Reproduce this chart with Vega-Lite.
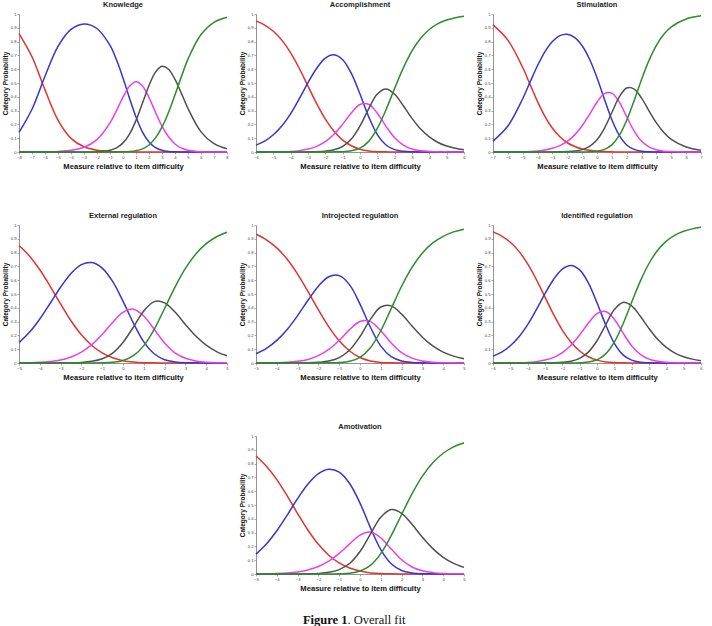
{
  "$schema": "https://vega.github.io/schema/vega-lite/v6.json",
  "background": "white",
  "padding": {"left": 2, "top": 0, "right": 0, "bottom": 0},
  "config": {
    "view": {"stroke": null},
    "title": {"font": "Liberation Sans", "fontSize": 7.5, "fontWeight": "bold", "color": "#222222", "offset": 4},
    "axis": {
      "grid": false,
      "labelFont": "Liberation Sans", "labelFontSize": 4.2, "labelColor": "#444444",
      "labelPadding": 1, "labelFlush": false, "labelOverlap": false,
      "titleFont": "Liberation Sans", "titleFontSize": 6.5, "titleFontWeight": "bold", "titleColor": "#111111",
      "domainColor": "#777777", "domainWidth": 0.8, "tickColor": "#777777", "tickSize": 2, "tickWidth": 0.6
    },
    "axisY": {"titlePadding": 2},
    "axisX": {"titlePadding": 3, "titleFontSize": 7.6},
    "line": {"interpolate": "catmull-rom", "strokeWidth": 1.5}
  },
  "datasets": {
    "knowledge": [
      {"x":-8,"c":0,"y":0.858},{"x":-8,"c":1,"y":0.142},{"x":-8,"c":2,"y":0},{"x":-8,"c":3,"y":0},{"x":-8,"c":4,"y":0},
      {"x":-7,"c":0,"y":0.690},{"x":-7,"c":1,"y":0.310},{"x":-7,"c":2,"y":0},{"x":-7,"c":3,"y":0},{"x":-7,"c":4,"y":0},
      {"x":-6,"c":0,"y":0.450},{"x":-6,"c":1,"y":0.549},{"x":-6,"c":2,"y":0.001},{"x":-6,"c":3,"y":0},{"x":-6,"c":4,"y":0},
      {"x":-5,"c":0,"y":0.231},{"x":-5,"c":1,"y":0.766},{"x":-5,"c":2,"y":0.004},{"x":-5,"c":3,"y":0},{"x":-5,"c":4,"y":0},
      {"x":-4,"c":0,"y":0.099},{"x":-4,"c":1,"y":0.889},{"x":-4,"c":2,"y":0.012},{"x":-4,"c":3,"y":0},{"x":-4,"c":4,"y":0},
      {"x":-3,"c":0,"y":0.038},{"x":-3,"c":1,"y":0.928},{"x":-3,"c":2,"y":0.034},{"x":-3,"c":3,"y":0},{"x":-3,"c":4,"y":0},
      {"x":-2,"c":0,"y":0.013},{"x":-2,"c":1,"y":0.895},{"x":-2,"c":2,"y":0.090},{"x":-2,"c":3,"y":0.002},{"x":-2,"c":4,"y":0},
      {"x":-1,"c":0,"y":0.004},{"x":-1,"c":1,"y":0.772},{"x":-1,"c":2,"y":0.211},{"x":-1,"c":3,"y":0.013},{"x":-1,"c":4,"y":0},
      {"x":-0.5,"c":0,"y":0.002},{"x":-0.5,"c":1,"y":0.668},{"x":-0.5,"c":2,"y":0.300},{"x":-0.5,"c":3,"y":0.030},{"x":-0.5,"c":4,"y":0},
      {"x":0,"c":0,"y":0.001},{"x":0,"c":1,"y":0.536},{"x":0,"c":2,"y":0.397},{"x":0,"c":3,"y":0.066},{"x":0,"c":4,"y":0.001},
      {"x":0.5,"c":0,"y":0.001},{"x":0.5,"c":1,"y":0.390},{"x":0.5,"c":2,"y":0.476},{"x":0.5,"c":3,"y":0.130},{"x":0.5,"c":4,"y":0.003},
      {"x":1,"c":0,"y":0},{"x":1,"c":1,"y":0.253},{"x":1,"c":2,"y":0.509},{"x":1,"c":3,"y":0.229},{"x":1,"c":4,"y":0.009},
      {"x":1.5,"c":0,"y":0},{"x":1.5,"c":1,"y":0.144},{"x":1.5,"c":2,"y":0.479},{"x":1.5,"c":3,"y":0.355},{"x":1.5,"c":4,"y":0.023},
      {"x":2,"c":0,"y":0},{"x":2,"c":1,"y":0.072},{"x":2,"c":2,"y":0.395},{"x":2,"c":3,"y":0.482},{"x":2,"c":4,"y":0.051},
      {"x":2.5,"c":0,"y":0},{"x":2.5,"c":1,"y":0.032},{"x":2.5,"c":2,"y":0.288},{"x":2.5,"c":3,"y":0.579},{"x":2.5,"c":4,"y":0.102},
      {"x":3,"c":0,"y":0},{"x":3,"c":1,"y":0.013},{"x":3,"c":2,"y":0.187},{"x":3,"c":3,"y":0.621},{"x":3,"c":4,"y":0.180},
      {"x":3.5,"c":0,"y":0},{"x":3.5,"c":1,"y":0.004},{"x":3.5,"c":2,"y":0.110},{"x":3.5,"c":3,"y":0.600},{"x":3.5,"c":4,"y":0.286},
      {"x":4,"c":0,"y":0},{"x":4,"c":1,"y":0.001},{"x":4,"c":2,"y":0.058},{"x":4,"c":3,"y":0.526},{"x":4,"c":4,"y":0.414},
      {"x":4.5,"c":0,"y":0},{"x":4.5,"c":1,"y":0},{"x":4.5,"c":2,"y":0.028},{"x":4.5,"c":3,"y":0.423},{"x":4.5,"c":4,"y":0.548},
      {"x":5,"c":0,"y":0},{"x":5,"c":1,"y":0},{"x":5,"c":2,"y":0.013},{"x":5,"c":3,"y":0.315},{"x":5,"c":4,"y":0.673},
      {"x":6,"c":0,"y":0},{"x":6,"c":1,"y":0},{"x":6,"c":2,"y":0.002},{"x":6,"c":3,"y":0.146},{"x":6,"c":4,"y":0.851},
      {"x":7,"c":0,"y":0},{"x":7,"c":1,"y":0},{"x":7,"c":2,"y":0},{"x":7,"c":3,"y":0.060},{"x":7,"c":4,"y":0.940},
      {"x":8,"c":0,"y":0},{"x":8,"c":1,"y":0},{"x":8,"c":2,"y":0},{"x":8,"c":3,"y":0.023},{"x":8,"c":4,"y":0.977}
    ],
    "accomplishment": [
      {"x":-6,"c":0,"y":0.950},{"x":-6,"c":1,"y":0.050},{"x":-6,"c":2,"y":0},{"x":-6,"c":3,"y":0},{"x":-6,"c":4,"y":0},
      {"x":-5.5,"c":0,"y":0.920},{"x":-5.5,"c":1,"y":0.079},{"x":-5.5,"c":2,"y":0},{"x":-5.5,"c":3,"y":0},{"x":-5.5,"c":4,"y":0},
      {"x":-5,"c":0,"y":0.875},{"x":-5,"c":1,"y":0.125},{"x":-5,"c":2,"y":0.001},{"x":-5,"c":3,"y":0},{"x":-5,"c":4,"y":0},
      {"x":-4.5,"c":0,"y":0.809},{"x":-4.5,"c":1,"y":0.190},{"x":-4.5,"c":2,"y":0.002},{"x":-4.5,"c":3,"y":0},{"x":-4.5,"c":4,"y":0},
      {"x":-4,"c":0,"y":0.718},{"x":-4,"c":1,"y":0.278},{"x":-4,"c":2,"y":0.004},{"x":-4,"c":3,"y":0},{"x":-4,"c":4,"y":0},
      {"x":-3.5,"c":0,"y":0.605},{"x":-3.5,"c":1,"y":0.386},{"x":-3.5,"c":2,"y":0.010},{"x":-3.5,"c":3,"y":0},{"x":-3.5,"c":4,"y":0},
      {"x":-3,"c":0,"y":0.477},{"x":-3,"c":1,"y":0.502},{"x":-3,"c":2,"y":0.021},{"x":-3,"c":3,"y":0.001},{"x":-3,"c":4,"y":0},
      {"x":-2.5,"c":0,"y":0.350},{"x":-2.5,"c":1,"y":0.607},{"x":-2.5,"c":2,"y":0.041},{"x":-2.5,"c":3,"y":0.002},{"x":-2.5,"c":4,"y":0},
      {"x":-2,"c":0,"y":0.238},{"x":-2,"c":1,"y":0.681},{"x":-2,"c":2,"y":0.075},{"x":-2,"c":3,"y":0.006},{"x":-2,"c":4,"y":0},
      {"x":-1.5,"c":0,"y":0.150},{"x":-1.5,"c":1,"y":0.705},{"x":-1.5,"c":2,"y":0.129},{"x":-1.5,"c":3,"y":0.016},{"x":-1.5,"c":4,"y":0.001},
      {"x":-1,"c":0,"y":0.086},{"x":-1,"c":1,"y":0.669},{"x":-1,"c":2,"y":0.202},{"x":-1,"c":3,"y":0.041},{"x":-1,"c":4,"y":0.002},
      {"x":-0.5,"c":0,"y":0.045},{"x":-0.5,"c":1,"y":0.570},{"x":-0.5,"c":2,"y":0.283},{"x":-0.5,"c":3,"y":0.094},{"x":-0.5,"c":4,"y":0.009},
      {"x":0,"c":0,"y":0.020},{"x":0,"c":1,"y":0.420},{"x":0,"c":2,"y":0.344},{"x":0,"c":3,"y":0.189},{"x":0,"c":4,"y":0.028},
      {"x":0.5,"c":0,"y":0.007},{"x":0.5,"c":1,"y":0.256},{"x":0.5,"c":2,"y":0.346},{"x":0.5,"c":3,"y":0.313},{"x":0.5,"c":4,"y":0.077},
      {"x":1,"c":0,"y":0.002},{"x":1,"c":1,"y":0.126},{"x":1,"c":2,"y":0.281},{"x":1,"c":3,"y":0.420},{"x":1,"c":4,"y":0.171},
      {"x":1.5,"c":0,"y":0.001},{"x":1.5,"c":1,"y":0.051},{"x":1.5,"c":2,"y":0.186},{"x":1.5,"c":3,"y":0.457},{"x":1.5,"c":4,"y":0.306},
      {"x":2,"c":0,"y":0},{"x":2,"c":1,"y":0.017},{"x":2,"c":2,"y":0.103},{"x":2,"c":3,"y":0.418},{"x":2,"c":4,"y":0.462},
      {"x":2.5,"c":0,"y":0},{"x":2.5,"c":1,"y":0.005},{"x":2.5,"c":2,"y":0.050},{"x":2.5,"c":3,"y":0.335},{"x":2.5,"c":4,"y":0.610},
      {"x":3,"c":0,"y":0},{"x":3,"c":1,"y":0.001},{"x":3,"c":2,"y":0.022},{"x":3,"c":3,"y":0.244},{"x":3,"c":4,"y":0.733},
      {"x":3.5,"c":0,"y":0},{"x":3.5,"c":1,"y":0},{"x":3.5,"c":2,"y":0.009},{"x":3.5,"c":3,"y":0.166},{"x":3.5,"c":4,"y":0.824},
      {"x":4,"c":0,"y":0},{"x":4,"c":1,"y":0},{"x":4,"c":2,"y":0.004},{"x":4,"c":3,"y":0.109},{"x":4,"c":4,"y":0.888},
      {"x":4.5,"c":0,"y":0},{"x":4.5,"c":1,"y":0},{"x":4.5,"c":2,"y":0.001},{"x":4.5,"c":3,"y":0.069},{"x":4.5,"c":4,"y":0.930},
      {"x":5,"c":0,"y":0},{"x":5,"c":1,"y":0},{"x":5,"c":2,"y":0.001},{"x":5,"c":3,"y":0.043},{"x":5,"c":4,"y":0.956},
      {"x":5.5,"c":0,"y":0},{"x":5.5,"c":1,"y":0},{"x":5.5,"c":2,"y":0},{"x":5.5,"c":3,"y":0.027},{"x":5.5,"c":4,"y":0.973},
      {"x":6,"c":0,"y":0},{"x":6,"c":1,"y":0},{"x":6,"c":2,"y":0},{"x":6,"c":3,"y":0.016},{"x":6,"c":4,"y":0.984}
    ],
    "stimulation": [
      {"x":-7,"c":0,"y":0.921},{"x":-7,"c":1,"y":0.079},{"x":-7,"c":2,"y":0},{"x":-7,"c":3,"y":0},{"x":-7,"c":4,"y":0},
      {"x":-6,"c":0,"y":0.811},{"x":-6,"c":1,"y":0.188},{"x":-6,"c":2,"y":0},{"x":-6,"c":3,"y":0},{"x":-6,"c":4,"y":0},
      {"x":-5,"c":0,"y":0.612},{"x":-5,"c":1,"y":0.386},{"x":-5,"c":2,"y":0.002},{"x":-5,"c":3,"y":0},{"x":-5,"c":4,"y":0},
      {"x":-4.5,"c":0,"y":0.488},{"x":-4.5,"c":1,"y":0.508},{"x":-4.5,"c":2,"y":0.004},{"x":-4.5,"c":3,"y":0},{"x":-4.5,"c":4,"y":0},
      {"x":-4,"c":0,"y":0.365},{"x":-4,"c":1,"y":0.627},{"x":-4,"c":2,"y":0.008},{"x":-4,"c":3,"y":0},{"x":-4,"c":4,"y":0},
      {"x":-3.5,"c":0,"y":0.257},{"x":-3.5,"c":1,"y":0.728},{"x":-3.5,"c":2,"y":0.015},{"x":-3.5,"c":3,"y":0},{"x":-3.5,"c":4,"y":0},
      {"x":-3,"c":0,"y":0.172},{"x":-3,"c":1,"y":0.801},{"x":-3,"c":2,"y":0.027},{"x":-3,"c":3,"y":0},{"x":-3,"c":4,"y":0},
      {"x":-2.5,"c":0,"y":0.110},{"x":-2.5,"c":1,"y":0.843},{"x":-2.5,"c":2,"y":0.046},{"x":-2.5,"c":3,"y":0.001},{"x":-2.5,"c":4,"y":0},
      {"x":-2,"c":0,"y":0.067},{"x":-2,"c":1,"y":0.853},{"x":-2,"c":2,"y":0.077},{"x":-2,"c":3,"y":0.003},{"x":-2,"c":4,"y":0},
      {"x":-1.5,"c":0,"y":0.040},{"x":-1.5,"c":1,"y":0.829},{"x":-1.5,"c":2,"y":0.124},{"x":-1.5,"c":3,"y":0.007},{"x":-1.5,"c":4,"y":0},
      {"x":-1,"c":0,"y":0.022},{"x":-1,"c":1,"y":0.770},{"x":-1,"c":2,"y":0.190},{"x":-1,"c":3,"y":0.017},{"x":-1,"c":4,"y":0},
      {"x":-0.5,"c":0,"y":0.012},{"x":-0.5,"c":1,"y":0.672},{"x":-0.5,"c":2,"y":0.273},{"x":-0.5,"c":3,"y":0.041},{"x":-0.5,"c":4,"y":0.002},
      {"x":0,"c":0,"y":0.006},{"x":0,"c":1,"y":0.538},{"x":0,"c":2,"y":0.361},{"x":0,"c":3,"y":0.089},{"x":0,"c":4,"y":0.006},
      {"x":0.5,"c":0,"y":0.003},{"x":0.5,"c":1,"y":0.383},{"x":0.5,"c":2,"y":0.423},{"x":0.5,"c":3,"y":0.172},{"x":0.5,"c":4,"y":0.019},
      {"x":1,"c":0,"y":0.001},{"x":1,"c":1,"y":0.234},{"x":1,"c":2,"y":0.427},{"x":1,"c":3,"y":0.286},{"x":1,"c":4,"y":0.052},
      {"x":1.5,"c":0,"y":0},{"x":1.5,"c":1,"y":0.120},{"x":1.5,"c":2,"y":0.361},{"x":1.5,"c":3,"y":0.399},{"x":1.5,"c":4,"y":0.120},
      {"x":2,"c":0,"y":0},{"x":2,"c":1,"y":0.051},{"x":2,"c":2,"y":0.255},{"x":2,"c":3,"y":0.464},{"x":2,"c":4,"y":0.230},
      {"x":2.5,"c":0,"y":0},{"x":2.5,"c":1,"y":0.019},{"x":2.5,"c":2,"y":0.152},{"x":2.5,"c":3,"y":0.456},{"x":2.5,"c":4,"y":0.373},
      {"x":3,"c":0,"y":0},{"x":3,"c":1,"y":0.006},{"x":3,"c":2,"y":0.079},{"x":3,"c":3,"y":0.390},{"x":3,"c":4,"y":0.526},
      {"x":3.5,"c":0,"y":0},{"x":3.5,"c":1,"y":0.002},{"x":3.5,"c":2,"y":0.037},{"x":3.5,"c":3,"y":0.298},{"x":3.5,"c":4,"y":0.664},
      {"x":4,"c":0,"y":0},{"x":4,"c":1,"y":0},{"x":4,"c":2,"y":0.016},{"x":4,"c":3,"y":0.211},{"x":4,"c":4,"y":0.773},
      {"x":4.5,"c":0,"y":0},{"x":4.5,"c":1,"y":0},{"x":4.5,"c":2,"y":0.006},{"x":4.5,"c":3,"y":0.141},{"x":4.5,"c":4,"y":0.853},
      {"x":5,"c":0,"y":0},{"x":5,"c":1,"y":0},{"x":5,"c":2,"y":0.003},{"x":5,"c":3,"y":0.091},{"x":5,"c":4,"y":0.907},
      {"x":6,"c":0,"y":0},{"x":6,"c":1,"y":0},{"x":6,"c":2,"y":0},{"x":6,"c":3,"y":0.036},{"x":6,"c":4,"y":0.964},
      {"x":7,"c":0,"y":0},{"x":7,"c":1,"y":0},{"x":7,"c":2,"y":0},{"x":7,"c":3,"y":0.013},{"x":7,"c":4,"y":0.987}
    ],
    "external": [
      {"x":-5,"c":0,"y":0.851},{"x":-5,"c":1,"y":0.148},{"x":-5,"c":2,"y":0.001},{"x":-5,"c":3,"y":0},{"x":-5,"c":4,"y":0},
      {"x":-4.5,"c":0,"y":0.776},{"x":-4.5,"c":1,"y":0.222},{"x":-4.5,"c":2,"y":0.002},{"x":-4.5,"c":3,"y":0},{"x":-4.5,"c":4,"y":0},
      {"x":-4,"c":0,"y":0.676},{"x":-4,"c":1,"y":0.319},{"x":-4,"c":2,"y":0.005},{"x":-4,"c":3,"y":0},{"x":-4,"c":4,"y":0},
      {"x":-3.5,"c":0,"y":0.556},{"x":-3.5,"c":1,"y":0.433},{"x":-3.5,"c":2,"y":0.011},{"x":-3.5,"c":3,"y":0},{"x":-3.5,"c":4,"y":0},
      {"x":-3,"c":0,"y":0.428},{"x":-3,"c":1,"y":0.549},{"x":-3,"c":2,"y":0.022},{"x":-3,"c":3,"y":0.001},{"x":-3,"c":4,"y":0},
      {"x":-2.5,"c":0,"y":0.306},{"x":-2.5,"c":1,"y":0.649},{"x":-2.5,"c":2,"y":0.044},{"x":-2.5,"c":3,"y":0.002},{"x":-2.5,"c":4,"y":0},
      {"x":-2,"c":0,"y":0.204},{"x":-2,"c":1,"y":0.713},{"x":-2,"c":2,"y":0.079},{"x":-2,"c":3,"y":0.004},{"x":-2,"c":4,"y":0},
      {"x":-1.5,"c":0,"y":0.127},{"x":-1.5,"c":1,"y":0.728},{"x":-1.5,"c":2,"y":0.133},{"x":-1.5,"c":3,"y":0.012},{"x":-1.5,"c":4,"y":0},
      {"x":-1,"c":0,"y":0.073},{"x":-1,"c":1,"y":0.688},{"x":-1,"c":2,"y":0.207},{"x":-1,"c":3,"y":0.031},{"x":-1,"c":4,"y":0.001},
      {"x":-0.5,"c":0,"y":0.038},{"x":-0.5,"c":1,"y":0.591},{"x":-0.5,"c":2,"y":0.294},{"x":-0.5,"c":3,"y":0.072},{"x":-0.5,"c":4,"y":0.005},
      {"x":0,"c":0,"y":0.017},{"x":0,"c":1,"y":0.448},{"x":0,"c":2,"y":0.367},{"x":0,"c":3,"y":0.149},{"x":0,"c":4,"y":0.018},
      {"x":0.5,"c":0,"y":0.007},{"x":0.5,"c":1,"y":0.289},{"x":0.5,"c":2,"y":0.390},{"x":0.5,"c":3,"y":0.261},{"x":0.5,"c":4,"y":0.053},
      {"x":1,"c":0,"y":0.002},{"x":1,"c":1,"y":0.153},{"x":1,"c":2,"y":0.341},{"x":1,"c":3,"y":0.377},{"x":1,"c":4,"y":0.126},
      {"x":1.5,"c":0,"y":0.001},{"x":1.5,"c":1,"y":0.067},{"x":1.5,"c":2,"y":0.244},{"x":1.5,"c":3,"y":0.445},{"x":1.5,"c":4,"y":0.244},
      {"x":2,"c":0,"y":0},{"x":2,"c":1,"y":0.024},{"x":2,"c":2,"y":0.145},{"x":2,"c":3,"y":0.436},{"x":2,"c":4,"y":0.395},
      {"x":2.5,"c":0,"y":0},{"x":2.5,"c":1,"y":0.008},{"x":2.5,"c":2,"y":0.074},{"x":2.5,"c":3,"y":0.369},{"x":2.5,"c":4,"y":0.550},
      {"x":3,"c":0,"y":0},{"x":3,"c":1,"y":0.002},{"x":3,"c":2,"y":0.034},{"x":3,"c":3,"y":0.279},{"x":3,"c":4,"y":0.685},
      {"x":3.5,"c":0,"y":0},{"x":3.5,"c":1,"y":0.001},{"x":3.5,"c":2,"y":0.015},{"x":3.5,"c":3,"y":0.195},{"x":3.5,"c":4,"y":0.790},
      {"x":4,"c":0,"y":0},{"x":4,"c":1,"y":0},{"x":4,"c":2,"y":0.006},{"x":4,"c":3,"y":0.129},{"x":4,"c":4,"y":0.865},
      {"x":4.5,"c":0,"y":0},{"x":4.5,"c":1,"y":0},{"x":4.5,"c":2,"y":0.002},{"x":4.5,"c":3,"y":0.083},{"x":4.5,"c":4,"y":0.915},
      {"x":5,"c":0,"y":0},{"x":5,"c":1,"y":0},{"x":5,"c":2,"y":0.001},{"x":5,"c":3,"y":0.052},{"x":5,"c":4,"y":0.947}
    ],
    "introjected": [
      {"x":-5,"c":0,"y":0.933},{"x":-5,"c":1,"y":0.067},{"x":-5,"c":2,"y":0},{"x":-5,"c":3,"y":0},{"x":-5,"c":4,"y":0},
      {"x":-4.5,"c":0,"y":0.893},{"x":-4.5,"c":1,"y":0.106},{"x":-4.5,"c":2,"y":0.001},{"x":-4.5,"c":3,"y":0},{"x":-4.5,"c":4,"y":0},
      {"x":-4,"c":0,"y":0.834},{"x":-4,"c":1,"y":0.164},{"x":-4,"c":2,"y":0.002},{"x":-4,"c":3,"y":0},{"x":-4,"c":4,"y":0},
      {"x":-3.5,"c":0,"y":0.752},{"x":-3.5,"c":1,"y":0.243},{"x":-3.5,"c":2,"y":0.005},{"x":-3.5,"c":3,"y":0},{"x":-3.5,"c":4,"y":0},
      {"x":-3,"c":0,"y":0.644},{"x":-3,"c":1,"y":0.343},{"x":-3,"c":2,"y":0.012},{"x":-3,"c":3,"y":0},{"x":-3,"c":4,"y":0},
      {"x":-2.5,"c":0,"y":0.518},{"x":-2.5,"c":1,"y":0.455},{"x":-2.5,"c":2,"y":0.026},{"x":-2.5,"c":3,"y":0.001},{"x":-2.5,"c":4,"y":0},
      {"x":-2,"c":0,"y":0.385},{"x":-2,"c":1,"y":0.557},{"x":-2,"c":2,"y":0.053},{"x":-2,"c":3,"y":0.005},{"x":-2,"c":4,"y":0},
      {"x":-1.5,"c":0,"y":0.262},{"x":-1.5,"c":1,"y":0.625},{"x":-1.5,"c":2,"y":0.098},{"x":-1.5,"c":3,"y":0.014},{"x":-1.5,"c":4,"y":0.001},
      {"x":-1,"c":0,"y":0.161},{"x":-1,"c":1,"y":0.633},{"x":-1,"c":2,"y":0.164},{"x":-1,"c":3,"y":0.039},{"x":-1,"c":4,"y":0.003},
      {"x":-0.5,"c":0,"y":0.087},{"x":-0.5,"c":1,"y":0.566},{"x":-0.5,"c":2,"y":0.242},{"x":-0.5,"c":3,"y":0.094},{"x":-0.5,"c":4,"y":0.012},
      {"x":0,"c":0,"y":0.040},{"x":0,"c":1,"y":0.427},{"x":0,"c":2,"y":0.301},{"x":0,"c":3,"y":0.192},{"x":0,"c":4,"y":0.041},
      {"x":0.5,"c":0,"y":0.015},{"x":0.5,"c":1,"y":0.259},{"x":0.5,"c":2,"y":0.300},{"x":0.5,"c":3,"y":0.316},{"x":0.5,"c":4,"y":0.111},
      {"x":1,"c":0,"y":0.004},{"x":1,"c":1,"y":0.122},{"x":1,"c":2,"y":0.234},{"x":1,"c":3,"y":0.406},{"x":1,"c":4,"y":0.234},
      {"x":1.5,"c":0,"y":0.001},{"x":1.5,"c":1,"y":0.046},{"x":1.5,"c":2,"y":0.145},{"x":1.5,"c":3,"y":0.414},{"x":1.5,"c":4,"y":0.394},
      {"x":2,"c":0,"y":0},{"x":2,"c":1,"y":0.015},{"x":2,"c":2,"y":0.075},{"x":2,"c":3,"y":0.354},{"x":2,"c":4,"y":0.556},
      {"x":2.5,"c":0,"y":0},{"x":2.5,"c":1,"y":0.004},{"x":2.5,"c":2,"y":0.035},{"x":2.5,"c":3,"y":0.268},{"x":2.5,"c":4,"y":0.693},
      {"x":3,"c":0,"y":0},{"x":3,"c":1,"y":0.001},{"x":3,"c":2,"y":0.015},{"x":3,"c":3,"y":0.187},{"x":3,"c":4,"y":0.797},
      {"x":3.5,"c":0,"y":0},{"x":3.5,"c":1,"y":0},{"x":3.5,"c":2,"y":0.006},{"x":3.5,"c":3,"y":0.124},{"x":3.5,"c":4,"y":0.870},
      {"x":4,"c":0,"y":0},{"x":4,"c":1,"y":0},{"x":4,"c":2,"y":0.002},{"x":4,"c":3,"y":0.079},{"x":4,"c":4,"y":0.918},
      {"x":4.5,"c":0,"y":0},{"x":4.5,"c":1,"y":0},{"x":4.5,"c":2,"y":0.001},{"x":4.5,"c":3,"y":0.050},{"x":4.5,"c":4,"y":0.950},
      {"x":5,"c":0,"y":0},{"x":5,"c":1,"y":0},{"x":5,"c":2,"y":0},{"x":5,"c":3,"y":0.031},{"x":5,"c":4,"y":0.969}
    ],
    "identified": [
      {"x":-6,"c":0,"y":0.950},{"x":-6,"c":1,"y":0.050},{"x":-6,"c":2,"y":0},{"x":-6,"c":3,"y":0},{"x":-6,"c":4,"y":0},
      {"x":-5.5,"c":0,"y":0.920},{"x":-5.5,"c":1,"y":0.079},{"x":-5.5,"c":2,"y":0},{"x":-5.5,"c":3,"y":0},{"x":-5.5,"c":4,"y":0},
      {"x":-5,"c":0,"y":0.875},{"x":-5,"c":1,"y":0.125},{"x":-5,"c":2,"y":0.001},{"x":-5,"c":3,"y":0},{"x":-5,"c":4,"y":0},
      {"x":-4.5,"c":0,"y":0.809},{"x":-4.5,"c":1,"y":0.190},{"x":-4.5,"c":2,"y":0.002},{"x":-4.5,"c":3,"y":0},{"x":-4.5,"c":4,"y":0},
      {"x":-4,"c":0,"y":0.718},{"x":-4,"c":1,"y":0.278},{"x":-4,"c":2,"y":0.004},{"x":-4,"c":3,"y":0},{"x":-4,"c":4,"y":0},
      {"x":-3.5,"c":0,"y":0.605},{"x":-3.5,"c":1,"y":0.386},{"x":-3.5,"c":2,"y":0.010},{"x":-3.5,"c":3,"y":0},{"x":-3.5,"c":4,"y":0},
      {"x":-3,"c":0,"y":0.477},{"x":-3,"c":1,"y":0.502},{"x":-3,"c":2,"y":0.021},{"x":-3,"c":3,"y":0.001},{"x":-3,"c":4,"y":0},
      {"x":-2.5,"c":0,"y":0.350},{"x":-2.5,"c":1,"y":0.607},{"x":-2.5,"c":2,"y":0.041},{"x":-2.5,"c":3,"y":0.002},{"x":-2.5,"c":4,"y":0},
      {"x":-2,"c":0,"y":0.238},{"x":-2,"c":1,"y":0.681},{"x":-2,"c":2,"y":0.076},{"x":-2,"c":3,"y":0.005},{"x":-2,"c":4,"y":0},
      {"x":-1.5,"c":0,"y":0.150},{"x":-1.5,"c":1,"y":0.707},{"x":-1.5,"c":2,"y":0.129},{"x":-1.5,"c":3,"y":0.013},{"x":-1.5,"c":4,"y":0},
      {"x":-1,"c":0,"y":0.087},{"x":-1,"c":1,"y":0.675},{"x":-1,"c":2,"y":0.203},{"x":-1,"c":3,"y":0.034},{"x":-1,"c":4,"y":0.002},
      {"x":-0.5,"c":0,"y":0.045},{"x":-0.5,"c":1,"y":0.581},{"x":-0.5,"c":2,"y":0.288},{"x":-0.5,"c":3,"y":0.079},{"x":-0.5,"c":4,"y":0.007},
      {"x":0,"c":0,"y":0.021},{"x":0,"c":1,"y":0.437},{"x":0,"c":2,"y":0.358},{"x":0,"c":3,"y":0.161},{"x":0,"c":4,"y":0.023},
      {"x":0.5,"c":0,"y":0.008},{"x":0.5,"c":1,"y":0.277},{"x":0.5,"c":2,"y":0.373},{"x":0.5,"c":3,"y":0.277},{"x":0.5,"c":4,"y":0.066},
      {"x":1,"c":0,"y":0.003},{"x":1,"c":1,"y":0.142},{"x":1,"c":2,"y":0.317},{"x":1,"c":3,"y":0.387},{"x":1,"c":4,"y":0.151},
      {"x":1.5,"c":0,"y":0.001},{"x":1.5,"c":1,"y":0.059},{"x":1.5,"c":2,"y":0.218},{"x":1.5,"c":3,"y":0.439},{"x":1.5,"c":4,"y":0.283},
      {"x":2,"c":0,"y":0},{"x":2,"c":1,"y":0.021},{"x":2,"c":2,"y":0.125},{"x":2,"c":3,"y":0.414},{"x":2,"c":4,"y":0.440},
      {"x":2.5,"c":0,"y":0},{"x":2.5,"c":1,"y":0.006},{"x":2.5,"c":2,"y":0.062},{"x":2.5,"c":3,"y":0.339},{"x":2.5,"c":4,"y":0.593},
      {"x":3,"c":0,"y":0},{"x":3,"c":1,"y":0.002},{"x":3,"c":2,"y":0.028},{"x":3,"c":3,"y":0.250},{"x":3,"c":4,"y":0.721},
      {"x":3.5,"c":0,"y":0},{"x":3.5,"c":1,"y":0},{"x":3.5,"c":2,"y":0.012},{"x":3.5,"c":3,"y":0.172},{"x":3.5,"c":4,"y":0.817},
      {"x":4,"c":0,"y":0},{"x":4,"c":1,"y":0},{"x":4,"c":2,"y":0.005},{"x":4,"c":3,"y":0.113},{"x":4,"c":4,"y":0.883},
      {"x":4.5,"c":0,"y":0},{"x":4.5,"c":1,"y":0},{"x":4.5,"c":2,"y":0.002},{"x":4.5,"c":3,"y":0.072},{"x":4.5,"c":4,"y":0.927},
      {"x":5,"c":0,"y":0},{"x":5,"c":1,"y":0},{"x":5,"c":2,"y":0.001},{"x":5,"c":3,"y":0.045},{"x":5,"c":4,"y":0.955},
      {"x":5.5,"c":0,"y":0},{"x":5.5,"c":1,"y":0},{"x":5.5,"c":2,"y":0},{"x":5.5,"c":3,"y":0.028},{"x":5.5,"c":4,"y":0.972},
      {"x":6,"c":0,"y":0},{"x":6,"c":1,"y":0},{"x":6,"c":2,"y":0},{"x":6,"c":3,"y":0.017},{"x":6,"c":4,"y":0.983}
    ],
    "amotivation": [
      {"x":-5,"c":0,"y":0.855},{"x":-5,"c":1,"y":0.144},{"x":-5,"c":2,"y":0.001},{"x":-5,"c":3,"y":0},{"x":-5,"c":4,"y":0},
      {"x":-4.5,"c":0,"y":0.781},{"x":-4.5,"c":1,"y":0.217},{"x":-4.5,"c":2,"y":0.001},{"x":-4.5,"c":3,"y":0},{"x":-4.5,"c":4,"y":0},
      {"x":-4,"c":0,"y":0.684},{"x":-4,"c":1,"y":0.313},{"x":-4,"c":2,"y":0.003},{"x":-4,"c":3,"y":0},{"x":-4,"c":4,"y":0},
      {"x":-3.5,"c":0,"y":0.566},{"x":-3.5,"c":1,"y":0.427},{"x":-3.5,"c":2,"y":0.007},{"x":-3.5,"c":3,"y":0},{"x":-3.5,"c":4,"y":0},
      {"x":-3,"c":0,"y":0.438},{"x":-3,"c":1,"y":0.546},{"x":-3,"c":2,"y":0.015},{"x":-3,"c":3,"y":0},{"x":-3,"c":4,"y":0},
      {"x":-2.5,"c":0,"y":0.317},{"x":-2.5,"c":1,"y":0.652},{"x":-2.5,"c":2,"y":0.029},{"x":-2.5,"c":3,"y":0.001},{"x":-2.5,"c":4,"y":0},
      {"x":-2,"c":0,"y":0.215},{"x":-2,"c":1,"y":0.727},{"x":-2,"c":2,"y":0.054},{"x":-2,"c":3,"y":0.004},{"x":-2,"c":4,"y":0},
      {"x":-1.5,"c":0,"y":0.136},{"x":-1.5,"c":1,"y":0.759},{"x":-1.5,"c":2,"y":0.093},{"x":-1.5,"c":3,"y":0.012},{"x":-1.5,"c":4,"y":0},
      {"x":-1,"c":0,"y":0.080},{"x":-1,"c":1,"y":0.738},{"x":-1,"c":2,"y":0.149},{"x":-1,"c":3,"y":0.032},{"x":-1,"c":4,"y":0.002},
      {"x":-0.5,"c":0,"y":0.043},{"x":-0.5,"c":1,"y":0.656},{"x":-0.5,"c":2,"y":0.218},{"x":-0.5,"c":3,"y":0.076},{"x":-0.5,"c":4,"y":0.006},
      {"x":0,"c":0,"y":0.021},{"x":0,"c":1,"y":0.514},{"x":0,"c":2,"y":0.282},{"x":0,"c":3,"y":0.163},{"x":0,"c":4,"y":0.022},
      {"x":0.5,"c":0,"y":0.008},{"x":0.5,"c":1,"y":0.336},{"x":0.5,"c":2,"y":0.304},{"x":0.5,"c":3,"y":0.289},{"x":0.5,"c":4,"y":0.063},
      {"x":1,"c":0,"y":0.003},{"x":1,"c":1,"y":0.176},{"x":1,"c":2,"y":0.262},{"x":1,"c":3,"y":0.411},{"x":1,"c":4,"y":0.148},
      {"x":1.5,"c":0,"y":0.001},{"x":1.5,"c":1,"y":0.074},{"x":1.5,"c":2,"y":0.181},{"x":1.5,"c":3,"y":0.467},{"x":1.5,"c":4,"y":0.278},
      {"x":2,"c":0,"y":0},{"x":2,"c":1,"y":0.025},{"x":2,"c":2,"y":0.103},{"x":2,"c":3,"y":0.440},{"x":2,"c":4,"y":0.431},
      {"x":2.5,"c":0,"y":0},{"x":2.5,"c":1,"y":0.008},{"x":2.5,"c":2,"y":0.051},{"x":2.5,"c":3,"y":0.360},{"x":2.5,"c":4,"y":0.581},
      {"x":3,"c":0,"y":0},{"x":3,"c":1,"y":0.002},{"x":3,"c":2,"y":0.023},{"x":3,"c":3,"y":0.266},{"x":3,"c":4,"y":0.709},
      {"x":3.5,"c":0,"y":0},{"x":3.5,"c":1,"y":0.001},{"x":3.5,"c":2,"y":0.010},{"x":3.5,"c":3,"y":0.184},{"x":3.5,"c":4,"y":0.806},
      {"x":4,"c":0,"y":0},{"x":4,"c":1,"y":0},{"x":4,"c":2,"y":0.004},{"x":4,"c":3,"y":0.121},{"x":4,"c":4,"y":0.875},
      {"x":4.5,"c":0,"y":0},{"x":4.5,"c":1,"y":0},{"x":4.5,"c":2,"y":0.002},{"x":4.5,"c":3,"y":0.077},{"x":4.5,"c":4,"y":0.921},
      {"x":5,"c":0,"y":0},{"x":5,"c":1,"y":0},{"x":5,"c":2,"y":0.001},{"x":5,"c":3,"y":0.048},{"x":5,"c":4,"y":0.951}
    ]
  },
  "spacing": 41,
  "center": true,
  "vconcat": [
    {
      "spacing": 9,
      "hconcat": [
        {
          "title": "Knowledge", "width": 208, "height": 138,
          "data": {"name": "knowledge"},
          "mark": "line",
          "encoding": {
            "x": {"field": "x", "type": "quantitative", "scale": {"domain": [-8, 8], "nice": false, "zero": false},
                  "axis": {"values": [-8,-7,-6,-5,-4,-3,-2,-1,0,1,2,3,4,5,6,7,8], "title": "Measure relative to item difficulty"}},
            "y": {"field": "y", "type": "quantitative", "scale": {"domain": [0, 1], "nice": false},
                  "axis": {"values": [0,0.1,0.2,0.3,0.4,0.5,0.6,0.7,0.8,0.9,1], "format": "~g", "title": "Category Probability"}},
            "color": {"field": "c", "type": "nominal", "legend": null,
                      "scale": {"domain": [0,1,2,3,4], "range": ["#e2332e", "#3535d6", "#ea3fea", "#505050", "#2e8b2e"]}}
          }
        },
        {
          "title": "Accomplishment", "width": 208, "height": 138,
          "data": {"name": "accomplishment"},
          "mark": "line",
          "encoding": {
            "x": {"field": "x", "type": "quantitative", "scale": {"domain": [-6, 6], "nice": false, "zero": false},
                  "axis": {"values": [-6,-5,-4,-3,-2,-1,0,1,2,3,4,5,6], "title": "Measure relative to item difficulty"}},
            "y": {"field": "y", "type": "quantitative", "scale": {"domain": [0, 1], "nice": false},
                  "axis": {"values": [0,0.1,0.2,0.3,0.4,0.5,0.6,0.7,0.8,0.9,1], "format": "~g", "title": "Category Probability"}},
            "color": {"field": "c", "type": "nominal", "legend": null,
                      "scale": {"domain": [0,1,2,3,4], "range": ["#e2332e", "#3535d6", "#ea3fea", "#505050", "#2e8b2e"]}}
          }
        },
        {
          "title": "Stimulation", "width": 208, "height": 138,
          "data": {"name": "stimulation"},
          "mark": "line",
          "encoding": {
            "x": {"field": "x", "type": "quantitative", "scale": {"domain": [-7, 7], "nice": false, "zero": false},
                  "axis": {"values": [-7,-6,-5,-4,-3,-2,-1,0,1,2,3,4,5,6,7], "title": "Measure relative to item difficulty"}},
            "y": {"field": "y", "type": "quantitative", "scale": {"domain": [0, 1], "nice": false},
                  "axis": {"values": [0,0.1,0.2,0.3,0.4,0.5,0.6,0.7,0.8,0.9,1], "format": "~g", "title": "Category Probability"}},
            "color": {"field": "c", "type": "nominal", "legend": null,
                      "scale": {"domain": [0,1,2,3,4], "range": ["#e2332e", "#3535d6", "#ea3fea", "#505050", "#2e8b2e"]}}
          }
        }
      ]
    },
    {
      "spacing": 9,
      "hconcat": [
        {
          "title": "External regulation", "width": 208, "height": 138,
          "data": {"name": "external"},
          "mark": "line",
          "encoding": {
            "x": {"field": "x", "type": "quantitative", "scale": {"domain": [-5, 5], "nice": false, "zero": false},
                  "axis": {"values": [-5,-4,-3,-2,-1,0,1,2,3,4,5], "title": "Measure relative to item difficulty"}},
            "y": {"field": "y", "type": "quantitative", "scale": {"domain": [0, 1], "nice": false},
                  "axis": {"values": [0,0.1,0.2,0.3,0.4,0.5,0.6,0.7,0.8,0.9,1], "format": "~g", "title": "Category Probability"}},
            "color": {"field": "c", "type": "nominal", "legend": null,
                      "scale": {"domain": [0,1,2,3,4], "range": ["#e2332e", "#3535d6", "#ea3fea", "#505050", "#2e8b2e"]}}
          }
        },
        {
          "title": "Introjected regulation", "width": 208, "height": 138,
          "data": {"name": "introjected"},
          "mark": "line",
          "encoding": {
            "x": {"field": "x", "type": "quantitative", "scale": {"domain": [-5, 5], "nice": false, "zero": false},
                  "axis": {"values": [-5,-4,-3,-2,-1,0,1,2,3,4,5], "title": "Measure relative to item difficulty"}},
            "y": {"field": "y", "type": "quantitative", "scale": {"domain": [0, 1], "nice": false},
                  "axis": {"values": [0,0.1,0.2,0.3,0.4,0.5,0.6,0.7,0.8,0.9,1], "format": "~g", "title": "Category Probability"}},
            "color": {"field": "c", "type": "nominal", "legend": null,
                      "scale": {"domain": [0,1,2,3,4], "range": ["#e2332e", "#3535d6", "#ea3fea", "#505050", "#2e8b2e"]}}
          }
        },
        {
          "title": "Identified regulation", "width": 208, "height": 138,
          "data": {"name": "identified"},
          "mark": "line",
          "encoding": {
            "x": {"field": "x", "type": "quantitative", "scale": {"domain": [-6, 6], "nice": false, "zero": false},
                  "axis": {"values": [-6,-5,-4,-3,-2,-1,0,1,2,3,4,5,6], "title": "Measure relative to item difficulty"}},
            "y": {"field": "y", "type": "quantitative", "scale": {"domain": [0, 1], "nice": false},
                  "axis": {"values": [0,0.1,0.2,0.3,0.4,0.5,0.6,0.7,0.8,0.9,1], "format": "~g", "title": "Category Probability"}},
            "color": {"field": "c", "type": "nominal", "legend": null,
                      "scale": {"domain": [0,1,2,3,4], "range": ["#e2332e", "#3535d6", "#ea3fea", "#505050", "#2e8b2e"]}}
          }
        }
      ]
    },
    {
      "spacing": 22,
      "center": true,
      "vconcat": [
        {
          "title": "Amotivation", "width": 208, "height": 138,
          "data": {"name": "amotivation"},
          "mark": "line",
          "encoding": {
            "x": {"field": "x", "type": "quantitative", "scale": {"domain": [-5, 5], "nice": false, "zero": false},
                  "axis": {"values": [-5,-4,-3,-2,-1,0,1,2,3,4,5], "title": "Measure relative to item difficulty"}},
            "y": {"field": "y", "type": "quantitative", "scale": {"domain": [0, 1], "nice": false},
                  "axis": {"values": [0,0.1,0.2,0.3,0.4,0.5,0.6,0.7,0.8,0.9,1], "format": "~g", "title": "Category Probability"}},
            "color": {"field": "c", "type": "nominal", "legend": null,
                      "scale": {"domain": [0,1,2,3,4], "range": ["#e2332e", "#3535d6", "#ea3fea", "#505050", "#2e8b2e"]}}
          }
        },
        {
          "width": 228, "height": 12,
          "layer": [
            {
              "data": {"values": [{"t": "Figure 1"}]},
              "mark": {"type": "text", "align": "right", "baseline": "middle", "font": "Liberation Serif", "fontSize": 12.5, "fontWeight": "bold", "color": "#111111", "dx": -14},
              "encoding": {"text": {"field": "t"}}
            },
            {
              "data": {"values": [{"t": ". Overall fit"}]},
              "mark": {"type": "text", "align": "left", "baseline": "middle", "font": "Liberation Serif", "fontSize": 12.5, "fontWeight": "normal", "color": "#111111", "dx": -14},
              "encoding": {"text": {"field": "t"}}
            }
          ]
        }
      ]
    }
  ]
}
